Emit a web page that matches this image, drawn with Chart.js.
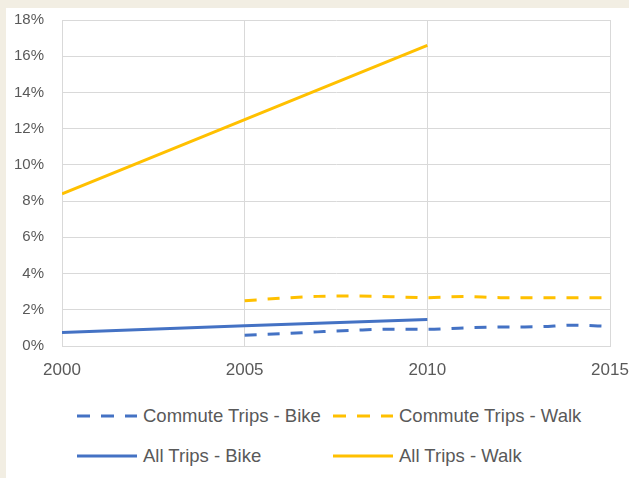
<!DOCTYPE html>
<html lang="en">
<head>
    <meta charset="UTF-8">
    <title>Commute vs All Trips</title>
    <script src="https://cdn.jsdelivr.net/npm/chart.js"></script>
    <style>
        body { margin: 0; background: #f2eee3; width: 629px; height: 478px; overflow: hidden; font-family: "Liberation Sans", Arial, sans-serif; }
        #panel { position: absolute; left: 6px; top: 8px; width: 623px; height: 470px; background: #fff; }
        #wrap { position: absolute; left: 0; top: 0; width: 629px; height: 385px; }
        .item { position: absolute; display: flex; align-items: center; color: #595959; font-size: 18.5px; }
        .item svg { margin-right: 6px; }
    </style>
</head>
<body>
    <div id="panel"></div>
    <div id="wrap"><canvas id="chart"></canvas></div>
    <div id="legend"></div>

    <script>
        // data (percent)
        const allYears = [2000, 2005, 2010];
        const allBike = [0.75, 1.12, 1.46];
        const allWalk = [8.4, 12.5, 16.6];

        const commuteYears = [2005, 2006, 2007, 2008, 2009, 2010, 2011, 2012, 2013, 2014, 2015];
        const commuteBike = [0.6, 0.68, 0.78, 0.87, 0.93, 0.92, 1.0, 1.05, 1.06, 1.15, 1.08];
        const commuteWalk = [2.5, 2.64, 2.74, 2.76, 2.72, 2.67, 2.73, 2.67, 2.67, 2.67, 2.67];

        const xTicks = [2000, 2005, 2010, 2015];

        const blue = '#4472c4';
        const gold = '#ffc000';
        const grid = '#d9d9d9';
        const txt = '#595959';

        function pts(xs, ys) {
            return xs.map((x, i) => ({ x: x, y: ys[i] }));
        }

        const series = [
            { label: 'Commute Trips - Bike', data: pts(commuteYears, commuteBike), color: blue, dash: [12, 11], smooth: true },
            { label: 'Commute Trips - Walk', data: pts(commuteYears, commuteWalk), color: gold, dash: [12, 11], smooth: true },
            { label: 'All Trips - Bike', data: pts(allYears, allBike), color: blue, dash: [], smooth: false },
            { label: 'All Trips - Walk', data: pts(allYears, allWalk), color: gold, dash: [], smooth: false }
        ];

        const ctx = document.getElementById('chart').getContext('2d');
        new Chart(ctx, {
            type: 'line',
            data: {
                datasets: series.map(s => ({
                    label: s.label,
                    data: s.data,
                    borderColor: s.color,
                    backgroundColor: s.color,
                    borderWidth: 3,
                    borderDash: s.dash,
                    pointRadius: 0,
                    tension: s.smooth ? 0.4 : 0,
                    cubicInterpolationMode: s.smooth ? 'monotone' : 'default',
                    fill: false
                }))
            },
            options: {
                responsive: true,
                maintainAspectRatio: false,
                animation: false,
                layout: { padding: { top: 20, right: 19, left: 0, bottom: 4 } },
                plugins: { legend: { display: false }, tooltip: { enabled: false } },
                scales: {
                    x: {
                        type: 'linear',
                        min: 2000,
                        max: 2015,
                        afterBuildTicks: s => { s.ticks = xTicks.map(v => ({ value: v })); },
                        afterFit: s => { s.height = 35; s.paddingLeft = 0; s.paddingRight = 0; },
                        grid: { color: grid, drawTicks: false },
                        border: { color: grid },
                        ticks: {
                            padding: 14,
                            color: txt,
                            font: { size: 17, family: '"Liberation Sans", Arial, sans-serif' },
                            callback: v => String(v),
                            maxRotation: 0
                        }
                    },
                    y: {
                        min: 0,
                        max: 18,
                        afterFit: s => { s.width = 62; s.paddingTop = 0; s.paddingBottom = 0; },
                        grid: { color: grid, drawTicks: false },
                        border: { color: grid },
                        ticks: {
                            stepSize: 2,
                            padding: 18,
                            color: txt,
                            font: { size: 15, family: '"Liberation Sans", Arial, sans-serif' },
                            callback: v => v + '%'
                        }
                    }
                }
            }
        });

        // legend in two columns like the original
        const slots = [
            { left: 77, top: 416 },
            { left: 333, top: 416 },
            { left: 77, top: 456 },
            { left: 333, top: 456 }
        ];
        const legend = document.getElementById('legend');
        series.forEach((s, i) => {
            const el = document.createElement('div');
            el.className = 'item';
            el.style.left = slots[i].left + 'px';
            el.style.top = (slots[i].top - 11) + 'px';
            el.style.height = '22px';
            const dash = s.dash.length ? 'stroke-dasharray="13 11"' : '';
            el.innerHTML = '<svg width="60" height="4"><line x1="0" y1="2" x2="60" y2="2" stroke="' + s.color +
                '" stroke-width="3" ' + dash + '/></svg><span>' + s.label + '</span>';
            legend.appendChild(el);
        });
    </script>
</body>
</html>
